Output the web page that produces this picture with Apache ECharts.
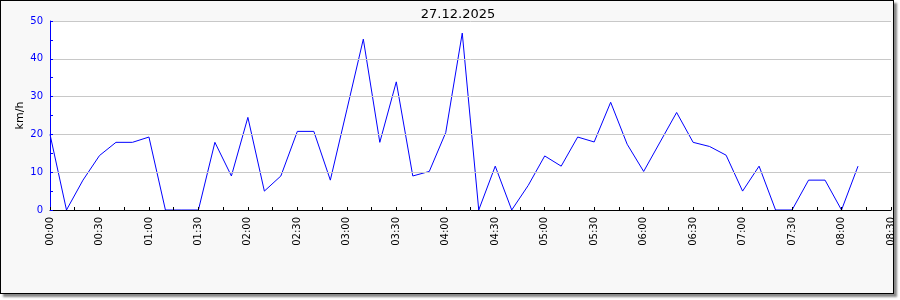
<!DOCTYPE html>
<html>
<head>
<meta charset="utf-8">
<script src="https://cdn.jsdelivr.net/npm/echarts@6/dist/echarts.min.js"></script>
<style>
html,body{margin:0;padding:0;background:#fff;}
#frame{position:absolute;left:0;top:0;width:892px;height:292px;border:1px solid #000;background:#f8f8f8;box-shadow:3px 3px 2px #888;}
#chart{position:absolute;left:0;top:0;width:900px;height:300px;}
</style>
</head>
<body>
<div id="frame"></div>
<div id="chart"></div>
<script>
const titleText = '27.12.2025';
const yAxisName = 'km/h';
const times = ['00:00','00:10','00:20','00:30','00:40','00:50','01:00','01:10','01:20','01:30',
  '01:40','01:50','02:00','02:10','02:20','02:30','02:40','02:50','03:00','03:10',
  '03:20','03:30','03:40','03:50','04:00','04:10','04:20','04:30','04:40','04:50',
  '05:00','05:10','05:20','05:30','05:40','05:50','06:00','06:10','06:20','06:30',
  '06:40','06:50','07:00','07:10','07:20','07:30','07:40','07:50','08:00','08:10'];
const speeds = [20.0,0,7.9,14.4,17.9,17.9,19.3,0,0,0,
  17.9,9.0,24.5,5.0,9.0,20.8,20.8,7.9,26.5,45.2,
  17.9,33.9,9.0,10.2,20.5,46.8,0,11.6,0,6.5,
  14.3,11.6,19.3,18.0,28.5,17.4,10.2,18.0,25.8,17.9,
  16.8,14.5,5.0,11.6,0,0,7.9,7.9,0,11.6];
const xMin = '00:00', xMax = '08:30';

function toMin(t){const p=t.split(':');return (+p[0])*60+(+p[1]);}
function fmt(m){const h=Math.floor(m/60),mm=m%60;return String(h).padStart(2,'0')+':'+String(mm).padStart(2,'0');}

const chart = echarts.init(document.getElementById('chart'), null, {renderer:'canvas'});
const font = 'DejaVu Sans';
chart.setOption({
  animation:false,
  backgroundColor:'transparent',
  title:{text:titleText,left:453,textAlign:'center',top:3,textStyle:{fontFamily:font,fontSize:13,fontWeight:'normal',color:'#000'}},
  grid:{left:50,right:9,top:21,bottom:90,show:true,backgroundColor:'#fff',borderWidth:0},
  xAxis:{
    type:'value',min:toMin(xMin),max:toMin(xMax),interval:15,z:5,
    axisLine:{lineStyle:{color:'#000',width:1}},
    axisTick:{inside:true,length:3,lineStyle:{color:'#000'}},
    axisLabel:{rotate:90,margin:7,fontFamily:font,fontSize:10,color:'#000',
      formatter:function(v){return v%30===0?fmt(v):'';}},
    splitLine:{show:false}
  },
  yAxis:{
    type:'value',min:0,max:50,interval:10,z:5,
    name:yAxisName,nameLocation:'middle',nameGap:24,nameRotate:90,nameMoveOverlap:false,
    nameTextStyle:{fontFamily:font,fontSize:11,color:'#000'},
    axisLine:{show:true,lineStyle:{color:'#0000ff',width:1}},
    axisTick:{show:true,inside:true,length:3,lineStyle:{color:'#0000ff'}},
    minorTick:{show:true,splitNumber:2,length:3,lineStyle:{color:'#0000ff'}},
    axisLabel:{margin:7,fontFamily:font,fontSize:10,color:'#0000ff'},
    splitLine:{show:true,lineStyle:{color:'#c8c8c8',width:1}}
  },
  series:[{
    type:'line',
    data:times.map(function(t,i){return [toMin(t),speeds[i]];}),
    showSymbol:false,symbol:'none',
    lineStyle:{color:'#0000ff',width:1},
    z:2,
    clip:true
  }]
});
</script>
</body>
</html>
